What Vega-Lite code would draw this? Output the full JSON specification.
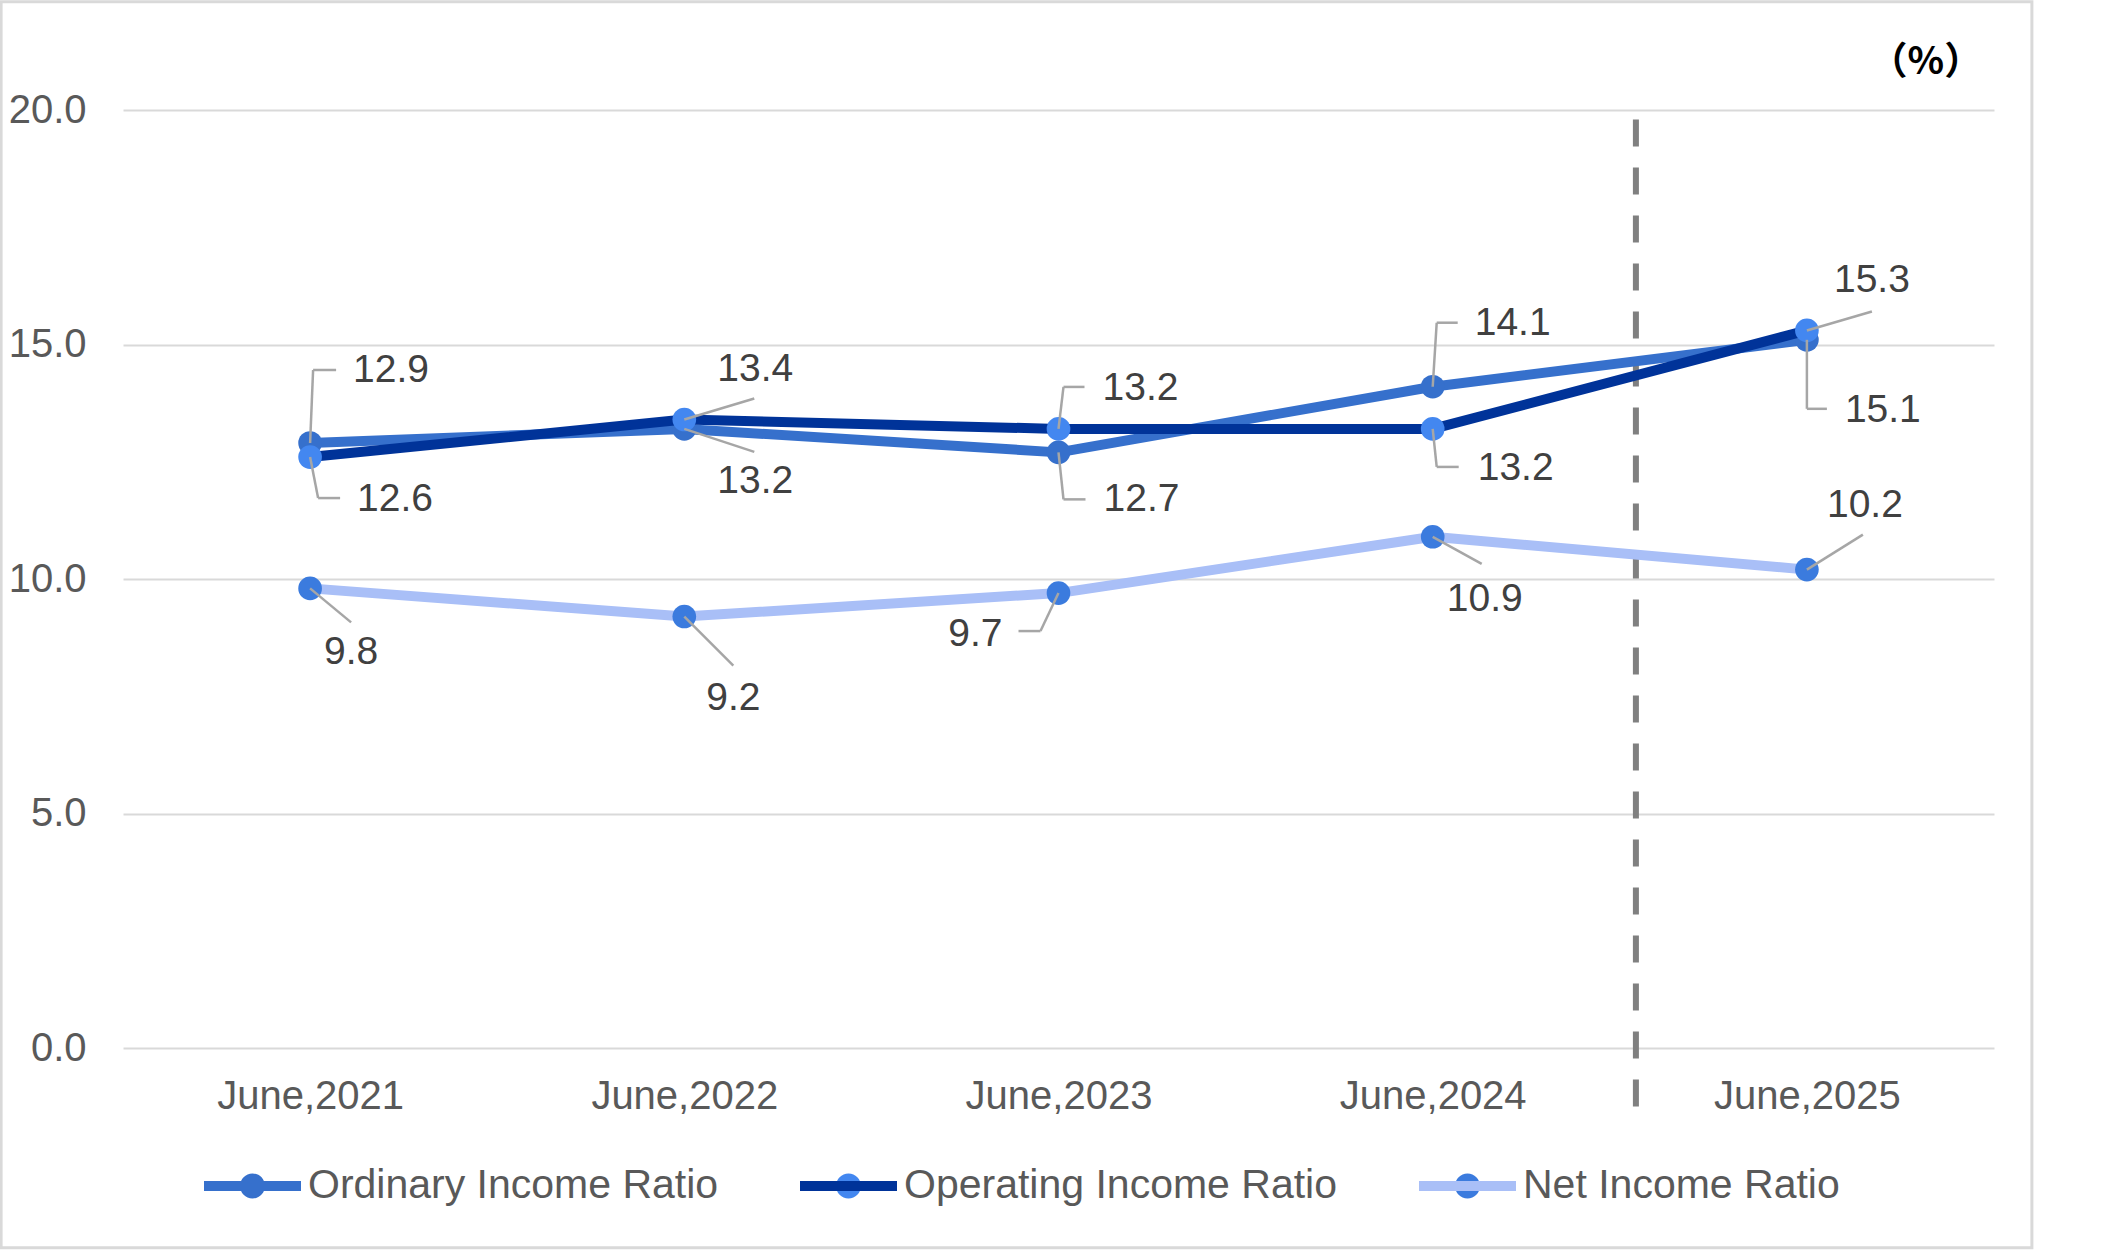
{
  "$schema": "https://vega.github.io/schema/vega-lite/v6.json",
  "width": 1871,
  "height": 938,
  "autosize": {"type": "none"},
  "padding": {"left": 123, "top": 110, "right": 118, "bottom": 203},
  "background": "white",
  "config": {
    "view": {"stroke": null},
    "font": "Liberation Sans",
    "axisX": {"domain": false, "ticks": false, "grid": false, "labelFontSize": 40, "labelColor": "#595959", "labelPadding": 28, "labelFont": "Liberation Sans", "labelAngle": 0, "labelLimit": 0},
    "axisY": {"domain": false, "ticks": false, "labelFontSize": 40, "labelColor": "#595959", "labelPadding": 37, "gridColor": "#D9D9D9", "gridWidth": 2, "labelFont": "Liberation Sans"},
    "legend": {"title": null, "orient": "none", "legendX": 76, "legendY": 1022, "direction": "horizontal",
      "symbolType": "M-1,0L0.649,0L-1,0L1,0M0.258,0A0.258,0.258,0,1,1,-0.258,0A0.258,0.258,0,1,1,0.258,0Z",
      "symbolSize": 9409, "symbolStrokeWidth": 10, "symbolDash": [0, 82, 300, 1], "symbolOpacity": 1,
      "labelFontSize": 41, "labelColor": "#595959", "labelFont": "Liberation Sans", "labelOffset": 2, "labelLimit": 0, "columnPadding": 61, "padding": 0}
  },
  "data": {
    "values": [
      {"period": "June,2021", "series": "Ordinary Income Ratio", "value": 12.9},
      {"period": "June,2022", "series": "Ordinary Income Ratio", "value": 13.2},
      {"period": "June,2023", "series": "Ordinary Income Ratio", "value": 12.7},
      {"period": "June,2024", "series": "Ordinary Income Ratio", "value": 14.1},
      {"period": "June,2025", "series": "Ordinary Income Ratio", "value": 15.1},
      {"period": "June,2021", "series": "Operating Income Ratio", "value": 12.6},
      {"period": "June,2022", "series": "Operating Income Ratio", "value": 13.4},
      {"period": "June,2023", "series": "Operating Income Ratio", "value": 13.2},
      {"period": "June,2024", "series": "Operating Income Ratio", "value": 13.2},
      {"period": "June,2025", "series": "Operating Income Ratio", "value": 15.3},
      {"period": "June,2021", "series": "Net Income Ratio", "value": 9.8},
      {"period": "June,2022", "series": "Net Income Ratio", "value": 9.2},
      {"period": "June,2023", "series": "Net Income Ratio", "value": 9.7},
      {"period": "June,2024", "series": "Net Income Ratio", "value": 10.9},
      {"period": "June,2025", "series": "Net Income Ratio", "value": 10.2}
    ]
  },
  "encoding": {
    "x": {"field": "period", "type": "ordinal", "title": null, "scale": {"type": "point", "padding": 0.5}},
    "y": {"field": "value", "type": "quantitative", "title": null, "scale": {"domain": [0, 20], "nice": false, "zero": true}, "axis": {"values": [0, 5, 10, 15, 20], "format": ".1f"}}
  },
  "layer": [
    {
      "transform": [{"filter": "datum.series === 'Ordinary Income Ratio' && datum.period === 'June,2025'"}],
      "layer": [
        {
          "mark": {"type": "rect", "fill": "transparent", "stroke": "#D9D9D9", "strokeWidth": 3, "xOffset": -309, "x2Offset": 225},
          "encoding": {
            "x": {"datum": "June,2021", "type": "ordinal"},
            "x2": {"datum": "June,2025"},
            "y": {"datum": 22.31, "type": "quantitative"},
            "y2": {"datum": -4.26}
          }
        },
        {
          "mark": {"type": "rule", "strokeDash": [27, 21], "strokeWidth": 6, "color": "#808080", "xOffset": -171},
          "encoding": {
            "y": {"datum": 19.8, "type": "quantitative"},
            "y2": {"datum": -1.3}
          }
        },
        {
          "mark": {"type": "text", "text": "（%）", "font": "Noto Sans CJK JP", "fontSize": 38, "fontWeight": "bold", "color": "#000000", "align": "center", "baseline": "middle", "dx": 119},
          "encoding": {
            "y": {"datum": 21, "type": "quantitative"}
          }
        }
      ]
    },
    {
      "transform": [{"filter": "datum.series === 'Ordinary Income Ratio'"}],
      "layer": [
        {"mark": {"type": "line", "strokeWidth": 10, "strokeCap": "round", "strokeJoin": "round"},
         "encoding": {"stroke": {"field": "series", "type": "nominal", "scale": {"domain": ["Ordinary Income Ratio", "Operating Income Ratio", "Net Income Ratio"], "range": ["#3670CC", "#003399", "#A9BFF7"]},
           "legend": {"encode": {"symbols": {"update": {"fill": {"scale": "fill", "field": "value"}, "stroke": {"scale": "stroke", "field": "value"}, "opacity": {"value": 1}}}}}}}},
        {"mark": {"type": "point", "filled": true, "size": 560, "opacity": 1, "strokeWidth": 0},
         "encoding": {"fill": {"field": "series", "type": "nominal", "scale": {"domain": ["Ordinary Income Ratio", "Operating Income Ratio", "Net Income Ratio"], "range": ["#3670CC", "#4387F0", "#3B7BDE"]},
           "legend": {"encode": {"symbols": {"update": {"fill": {"scale": "fill", "field": "value"}, "stroke": {"scale": "stroke", "field": "value"}, "opacity": {"value": 1}}}}}}}}
      ]
    },
    {
      "transform": [{"filter": "datum.series === 'Operating Income Ratio'"}],
      "layer": [
        {"mark": {"type": "line", "strokeWidth": 10, "strokeCap": "round", "strokeJoin": "round"},
         "encoding": {"stroke": {"field": "series", "type": "nominal", "scale": {"domain": ["Ordinary Income Ratio", "Operating Income Ratio", "Net Income Ratio"], "range": ["#3670CC", "#003399", "#A9BFF7"]}}}},
        {"mark": {"type": "point", "filled": true, "size": 560, "opacity": 1, "strokeWidth": 0},
         "encoding": {"fill": {"field": "series", "type": "nominal", "scale": {"domain": ["Ordinary Income Ratio", "Operating Income Ratio", "Net Income Ratio"], "range": ["#3670CC", "#4387F0", "#3B7BDE"]}}}}
      ]
    },
    {
      "transform": [{"filter": "datum.series === 'Net Income Ratio'"}],
      "layer": [
        {"mark": {"type": "line", "strokeWidth": 10, "strokeCap": "round", "strokeJoin": "round"},
         "encoding": {"stroke": {"field": "series", "type": "nominal", "scale": {"domain": ["Ordinary Income Ratio", "Operating Income Ratio", "Net Income Ratio"], "range": ["#3670CC", "#003399", "#A9BFF7"]}}}},
        {"mark": {"type": "point", "filled": true, "size": 560, "opacity": 1, "strokeWidth": 0},
         "encoding": {"fill": {"field": "series", "type": "nominal", "scale": {"domain": ["Ordinary Income Ratio", "Operating Income Ratio", "Net Income Ratio"], "range": ["#3670CC", "#4387F0", "#3B7BDE"]}}}}
      ]
    },
    {
      "transform": [{"filter": "datum.series === 'Ordinary Income Ratio' && datum.period === 'June,2021'"}],
      "layer": [
        {"mark": {"type": "text", "align": "left", "baseline": "middle", "dx": 43, "dy": -73, "fontSize": 39, "color": "#404040"}, "encoding": {"text": {"field": "value", "format": ".1f"}}},
        {"mark": {"type": "rule", "color": "#A6A6A6", "strokeWidth": 2.5, "x2Offset": 3, "y2Offset": -73}, "encoding": {"x2": {"field": "period"}, "y2": {"field": "value"}}},
        {"mark": {"type": "rule", "color": "#A6A6A6", "strokeWidth": 2.5, "xOffset": 3, "yOffset": -73, "x2Offset": 26, "y2Offset": -73}, "encoding": {"x2": {"field": "period"}, "y2": {"field": "value"}}}
      ]
    },
    {
      "transform": [{"filter": "datum.series === 'Operating Income Ratio' && datum.period === 'June,2021'"}],
      "layer": [
        {"mark": {"type": "text", "align": "left", "baseline": "middle", "dx": 47, "dy": 42, "fontSize": 39, "color": "#404040"}, "encoding": {"text": {"field": "value", "format": ".1f"}}},
        {"mark": {"type": "rule", "color": "#A6A6A6", "strokeWidth": 2.5, "x2Offset": 8, "y2Offset": 41}, "encoding": {"x2": {"field": "period"}, "y2": {"field": "value"}}},
        {"mark": {"type": "rule", "color": "#A6A6A6", "strokeWidth": 2.5, "xOffset": 8, "yOffset": 41, "x2Offset": 30, "y2Offset": 41}, "encoding": {"x2": {"field": "period"}, "y2": {"field": "value"}}}
      ]
    },
    {
      "transform": [{"filter": "datum.series === 'Ordinary Income Ratio' && datum.period === 'June,2022'"}],
      "layer": [
        {"mark": {"type": "text", "align": "center", "baseline": "middle", "dx": 71, "dy": 52, "fontSize": 39, "color": "#404040"}, "encoding": {"text": {"field": "value", "format": ".1f"}}},
        {"mark": {"type": "rule", "color": "#A6A6A6", "strokeWidth": 2.5, "x2Offset": 70, "y2Offset": 23}, "encoding": {"x2": {"field": "period"}, "y2": {"field": "value"}}}
      ]
    },
    {
      "transform": [{"filter": "datum.series === 'Operating Income Ratio' && datum.period === 'June,2022'"}],
      "layer": [
        {"mark": {"type": "text", "align": "center", "baseline": "middle", "dx": 71, "dy": -51, "fontSize": 39, "color": "#404040"}, "encoding": {"text": {"field": "value", "format": ".1f"}}},
        {"mark": {"type": "rule", "color": "#A6A6A6", "strokeWidth": 2.5, "x2Offset": 70, "y2Offset": -21}, "encoding": {"x2": {"field": "period"}, "y2": {"field": "value"}}}
      ]
    },
    {
      "transform": [{"filter": "datum.series === 'Operating Income Ratio' && datum.period === 'June,2023'"}],
      "layer": [
        {"mark": {"type": "text", "align": "left", "baseline": "middle", "dx": 44, "dy": -41, "fontSize": 39, "color": "#404040"}, "encoding": {"text": {"field": "value", "format": ".1f"}}},
        {"mark": {"type": "rule", "color": "#A6A6A6", "strokeWidth": 2.5, "x2Offset": 5, "y2Offset": -42}, "encoding": {"x2": {"field": "period"}, "y2": {"field": "value"}}},
        {"mark": {"type": "rule", "color": "#A6A6A6", "strokeWidth": 2.5, "xOffset": 5, "yOffset": -42, "x2Offset": 26, "y2Offset": -42}, "encoding": {"x2": {"field": "period"}, "y2": {"field": "value"}}}
      ]
    },
    {
      "transform": [{"filter": "datum.series === 'Ordinary Income Ratio' && datum.period === 'June,2023'"}],
      "layer": [
        {"mark": {"type": "text", "align": "left", "baseline": "middle", "dx": 45, "dy": 47, "fontSize": 39, "color": "#404040"}, "encoding": {"text": {"field": "value", "format": ".1f"}}},
        {"mark": {"type": "rule", "color": "#A6A6A6", "strokeWidth": 2.5, "x2Offset": 5, "y2Offset": 47}, "encoding": {"x2": {"field": "period"}, "y2": {"field": "value"}}},
        {"mark": {"type": "rule", "color": "#A6A6A6", "strokeWidth": 2.5, "xOffset": 5, "yOffset": 47, "x2Offset": 27, "y2Offset": 47}, "encoding": {"x2": {"field": "period"}, "y2": {"field": "value"}}}
      ]
    },
    {
      "transform": [{"filter": "datum.series === 'Ordinary Income Ratio' && datum.period === 'June,2024'"}],
      "layer": [
        {"mark": {"type": "text", "align": "left", "baseline": "middle", "dx": 42, "dy": -64, "fontSize": 39, "color": "#404040"}, "encoding": {"text": {"field": "value", "format": ".1f"}}},
        {"mark": {"type": "rule", "color": "#A6A6A6", "strokeWidth": 2.5, "x2Offset": 4, "y2Offset": -64}, "encoding": {"x2": {"field": "period"}, "y2": {"field": "value"}}},
        {"mark": {"type": "rule", "color": "#A6A6A6", "strokeWidth": 2.5, "xOffset": 4, "yOffset": -64, "x2Offset": 25, "y2Offset": -64}, "encoding": {"x2": {"field": "period"}, "y2": {"field": "value"}}}
      ]
    },
    {
      "transform": [{"filter": "datum.series === 'Operating Income Ratio' && datum.period === 'June,2024'"}],
      "layer": [
        {"mark": {"type": "text", "align": "left", "baseline": "middle", "dx": 45, "dy": 39, "fontSize": 39, "color": "#404040"}, "encoding": {"text": {"field": "value", "format": ".1f"}}},
        {"mark": {"type": "rule", "color": "#A6A6A6", "strokeWidth": 2.5, "x2Offset": 4, "y2Offset": 38}, "encoding": {"x2": {"field": "period"}, "y2": {"field": "value"}}},
        {"mark": {"type": "rule", "color": "#A6A6A6", "strokeWidth": 2.5, "xOffset": 4, "yOffset": 38, "x2Offset": 26, "y2Offset": 38}, "encoding": {"x2": {"field": "period"}, "y2": {"field": "value"}}}
      ]
    },
    {
      "transform": [{"filter": "datum.series === 'Operating Income Ratio' && datum.period === 'June,2025'"}],
      "layer": [
        {"mark": {"type": "text", "align": "center", "baseline": "middle", "dx": 65, "dy": -50, "fontSize": 39, "color": "#404040"}, "encoding": {"text": {"field": "value", "format": ".1f"}}},
        {"mark": {"type": "rule", "color": "#A6A6A6", "strokeWidth": 2.5, "x2Offset": 65, "y2Offset": -19}, "encoding": {"x2": {"field": "period"}, "y2": {"field": "value"}}}
      ]
    },
    {
      "transform": [{"filter": "datum.series === 'Ordinary Income Ratio' && datum.period === 'June,2025'"}],
      "layer": [
        {"mark": {"type": "text", "align": "left", "baseline": "middle", "dx": 38, "dy": 70, "fontSize": 39, "color": "#404040"}, "encoding": {"text": {"field": "value", "format": ".1f"}}},
        {"mark": {"type": "rule", "color": "#A6A6A6", "strokeWidth": 2.5, "x2Offset": 0, "y2Offset": 69}, "encoding": {"x2": {"field": "period"}, "y2": {"field": "value"}}},
        {"mark": {"type": "rule", "color": "#A6A6A6", "strokeWidth": 2.5, "xOffset": 0, "yOffset": 69, "x2Offset": 20, "y2Offset": 69}, "encoding": {"x2": {"field": "period"}, "y2": {"field": "value"}}}
      ]
    },
    {
      "transform": [{"filter": "datum.series === 'Net Income Ratio' && datum.period === 'June,2025'"}],
      "layer": [
        {"mark": {"type": "text", "align": "center", "baseline": "middle", "dx": 58, "dy": -65, "fontSize": 39, "color": "#404040"}, "encoding": {"text": {"field": "value", "format": ".1f"}}},
        {"mark": {"type": "rule", "color": "#A6A6A6", "strokeWidth": 2.5, "x2Offset": 56, "y2Offset": -35}, "encoding": {"x2": {"field": "period"}, "y2": {"field": "value"}}}
      ]
    },
    {
      "transform": [{"filter": "datum.series === 'Net Income Ratio' && datum.period === 'June,2021'"}],
      "layer": [
        {"mark": {"type": "text", "align": "center", "baseline": "middle", "dx": 41, "dy": 64, "fontSize": 39, "color": "#404040"}, "encoding": {"text": {"field": "value", "format": ".1f"}}},
        {"mark": {"type": "rule", "color": "#A6A6A6", "strokeWidth": 2.5, "x2Offset": 41, "y2Offset": 34}, "encoding": {"x2": {"field": "period"}, "y2": {"field": "value"}}}
      ]
    },
    {
      "transform": [{"filter": "datum.series === 'Net Income Ratio' && datum.period === 'June,2022'"}],
      "layer": [
        {"mark": {"type": "text", "align": "center", "baseline": "middle", "dx": 49, "dy": 81, "fontSize": 39, "color": "#404040"}, "encoding": {"text": {"field": "value", "format": ".1f"}}},
        {"mark": {"type": "rule", "color": "#A6A6A6", "strokeWidth": 2.5, "x2Offset": 49, "y2Offset": 49}, "encoding": {"x2": {"field": "period"}, "y2": {"field": "value"}}}
      ]
    },
    {
      "transform": [{"filter": "datum.series === 'Net Income Ratio' && datum.period === 'June,2023'"}],
      "layer": [
        {"mark": {"type": "text", "align": "right", "baseline": "middle", "dx": -56, "dy": 41, "fontSize": 39, "color": "#404040"}, "encoding": {"text": {"field": "value", "format": ".1f"}}},
        {"mark": {"type": "rule", "color": "#A6A6A6", "strokeWidth": 2.5, "x2Offset": -18, "y2Offset": 38}, "encoding": {"x2": {"field": "period"}, "y2": {"field": "value"}}},
        {"mark": {"type": "rule", "color": "#A6A6A6", "strokeWidth": 2.5, "xOffset": -18, "yOffset": 38, "x2Offset": -40, "y2Offset": 38}, "encoding": {"x2": {"field": "period"}, "y2": {"field": "value"}}}
      ]
    },
    {
      "transform": [{"filter": "datum.series === 'Net Income Ratio' && datum.period === 'June,2024'"}],
      "layer": [
        {"mark": {"type": "text", "align": "center", "baseline": "middle", "dx": 52, "dy": 62, "fontSize": 39, "color": "#404040"}, "encoding": {"text": {"field": "value", "format": ".1f"}}},
        {"mark": {"type": "rule", "color": "#A6A6A6", "strokeWidth": 2.5, "x2Offset": 49, "y2Offset": 27}, "encoding": {"x2": {"field": "period"}, "y2": {"field": "value"}}}
      ]
    }
  ]
}
